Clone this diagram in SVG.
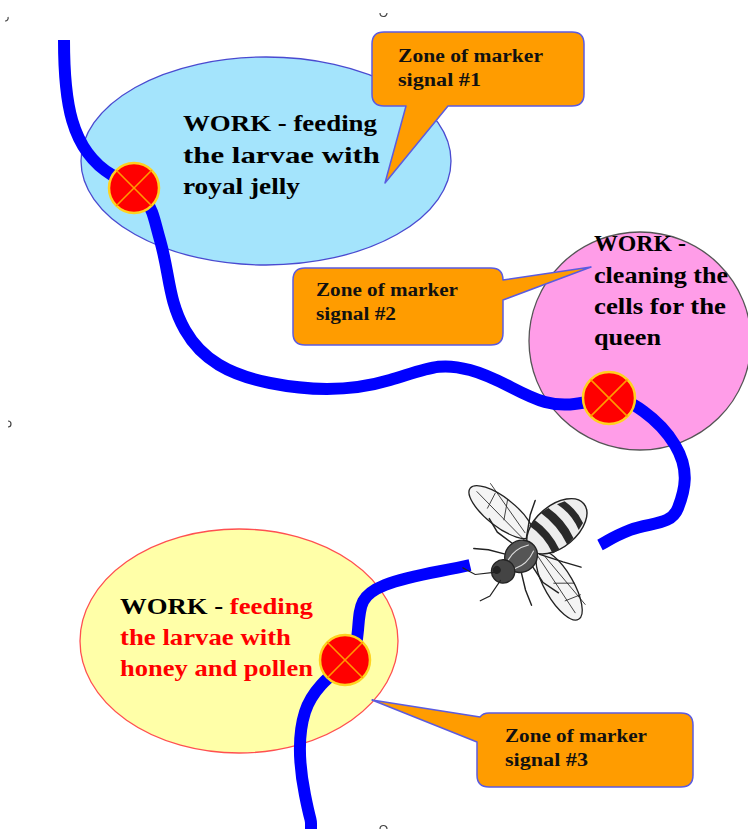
<svg xmlns="http://www.w3.org/2000/svg" width="748" height="829" viewBox="0 0 748 829">
  <style>
    .work { font-family: "Liberation Serif", "Times New Roman", serif; font-weight: bold; font-size: 23px; fill: #000; }
    .red { fill: #FF0000; }
    .zone { font-family: "Liberation Serif", "Times New Roman", serif; font-weight: bold; font-size: 18px; fill: #111; }
    .callout { fill: #FF9C00; stroke: #5B5BE0; stroke-width: 1.5; stroke-linejoin: round; }
    .marker circle { fill: #FF0000; stroke: #FFD21F; stroke-width: 2.5; }
    .marker line { stroke: #FF9A00; stroke-width: 1.6; }
    .route { fill: none; stroke: #0000FF; stroke-width: 12; stroke-linecap: butt; stroke-linejoin: round; }
    .tick { fill: none; stroke: #444; stroke-width: 1.2; }
  </style>

  <rect width="748" height="829" fill="#FFFFFF"/>

  <!-- page corner ticks -->
  <g id="ticks">
    <path class="tick" d="M8,17 a3,3 0 0 1 -3,4"/>
    <path class="tick" d="M380,13 a3.5,3.5 0 0 0 7,0"/>
    <path class="tick" d="M8,421 a3,3 0 0 1 0,6"/>
    <path class="tick" d="M380,829 a3.5,3.5 0 0 1 7,0"/>
  </g>

  <!-- work zones -->
  <g id="zone-royal-jelly">
    <ellipse cx="266" cy="161" rx="185" ry="104" fill="#A4E4FC" stroke="#4A4AD0" stroke-width="1.3"/>
  </g>
  <g id="zone-cleaning">
    <ellipse cx="640" cy="341" rx="111" ry="109" fill="#FF9DE8" stroke="#555" stroke-width="1.3"/>
  </g>
  <g id="zone-honey-pollen">
    <ellipse cx="239" cy="641" rx="159" ry="112" fill="#FFFFA8" stroke="#FF5050" stroke-width="1.3"/>
  </g>

  <!-- the bee's route -->
  <g id="connectors">
    <path class="route" d="M64,40 C64,100 70,150 112,175 S150,205 160,240 S168,300 185,330 S230,375 270,383 S350,392 390,380 S440,362 470,370 S520,395 545,402 S590,400 609,398 S660,420 675,445 S685,490 678,508 S650,522 630,530 S610,540 600,545"/>
    <path class="route" d="M470,565 C440,572 410,575 385,585 S360,605 358,630 S350,660 340,668 S312,690 305,712 S298,760 305,795 S311,815 311,829"/>
  </g>

  <!-- marker signals on the route -->
  <g id="marker-1" class="marker">
    <circle cx="134" cy="188" r="25"/>
    <line x1="116.3" y1="170.3" x2="151.7" y2="205.7"/>
    <line x1="151.7" y1="170.3" x2="116.3" y2="205.7"/>
  </g>
  <g id="marker-2" class="marker">
    <circle cx="609" cy="398" r="26"/>
    <line x1="590.6" y1="379.6" x2="627.4" y2="416.4"/>
    <line x1="627.4" y1="379.6" x2="590.6" y2="416.4"/>
  </g>
  <g id="marker-3" class="marker">
    <circle cx="345" cy="660" r="25"/>
    <line x1="327.3" y1="642.3" x2="362.7" y2="677.7"/>
    <line x1="362.7" y1="642.3" x2="327.3" y2="677.7"/>
  </g>

  <!-- bee -->
  <g id="bee" transform="translate(537,543) rotate(-40) scale(1.3)" stroke="#222" stroke-linecap="round">
    <!-- wings -->
    <ellipse cx="-6" cy="-36" rx="11" ry="30" fill="#F4F4F4" stroke-width="1" transform="rotate(-12,-6,-36)"/>
    <path d="M-6,-8 L-10,-60 M-2,-12 L2,-58 M-8,-30 L4,-40 M-12,-45 L0,-50" fill="none" stroke-width="0.6"/>
    <ellipse cx="-8" cy="36" rx="11" ry="30" fill="#F4F4F4" stroke-width="1" transform="rotate(10,-8,36)"/>
    <path d="M-6,8 L-12,60 M-2,12 L-2,60 M-10,32 L2,42 M-12,48 L0,52" fill="none" stroke-width="0.6"/>
    <!-- legs -->
    <path d="M-22,6 L-30,22 L-34,34 M-14,9 L-16,26 L-12,40 M-4,8 L6,24 L14,36 M-22,-6 L-32,-20 L-40,-28 M-14,-9 L-18,-26 L-16,-38 M-4,-8 L10,-20 L20,-26" fill="none" stroke-width="1.1"/>
    <!-- abdomen with bands -->
    <ellipse cx="20" cy="0" rx="27" ry="16" fill="#EDEDED" stroke-width="1.1"/>
    <path d="M4,-14 Q8,0 4,14 L10,15 Q14,0 10,-15 Z M17,-16 Q21,0 17,16 L24,15 Q28,0 24,-15 Z M31,-13 Q35,0 31,13 L37,11 Q40,0 37,-11 Z" fill="#2A2A2A" stroke="none"/>
    <!-- thorax and head -->
    <ellipse cx="-16" cy="0" rx="13" ry="12" fill="#555" stroke-width="1"/>
    <path d="M-26,-4 Q-16,-8 -6,-3 M-26,4 Q-16,8 -6,3" fill="none" stroke="#DDD" stroke-width="0.8"/>
    <circle cx="-34" cy="0" r="9" fill="#444" stroke-width="1"/>
    <circle cx="-37" cy="-4" r="3" fill="#222" stroke="none"/>
    <!-- antennae -->
    <path d="M-40,-4 L-52,-12 L-56,-22 M-40,4 L-54,8 L-62,6" fill="none" stroke-width="0.9"/>
  </g>

  <!-- callouts -->
  <g id="callout-1">
    <path class="callout" d="M384,32 H572 Q584,32 584,44 V94 Q584,106 572,106 H448 L385,183 L406,106 H384 Q372,106 372,94 V44 Q372,32 384,32 Z"/>
    <text class="zone" x="398" y="62" textLength="145" lengthAdjust="spacingAndGlyphs">Zone of marker</text>
    <text class="zone" x="398" y="86" textLength="83" lengthAdjust="spacingAndGlyphs">signal #1</text>
  </g>
  <g id="callout-2">
    <path class="callout" d="M305,268 H491 Q503,268 503,280 L591,267 L503,300 V333 Q503,345 491,345 H305 Q293,345 293,333 V280 Q293,268 305,268 Z"/>
    <text class="zone" x="316" y="296" textLength="142" lengthAdjust="spacingAndGlyphs">Zone of marker</text>
    <text class="zone" x="316" y="320" textLength="80" lengthAdjust="spacingAndGlyphs">signal #2</text>
  </g>
  <g id="callout-3">
    <path class="callout" d="M489,713 H681 Q693,713 693,725 V775 Q693,787 681,787 H489 Q477,787 477,775 V742 L372,700 L480,717 Q483,713 489,713 Z"/>
    <text class="zone" x="505" y="742" textLength="142" lengthAdjust="spacingAndGlyphs">Zone of marker</text>
    <text class="zone" x="505" y="766" textLength="83" lengthAdjust="spacingAndGlyphs">signal #3</text>
  </g>

  <!-- zone labels -->
  <g id="label-royal-jelly">
    <text class="work" x="183" y="131" textLength="194" lengthAdjust="spacingAndGlyphs">WORK - feeding</text>
    <text class="work" x="183" y="163" textLength="197" lengthAdjust="spacingAndGlyphs">the larvae with</text>
    <text class="work" x="183" y="194" textLength="117" lengthAdjust="spacingAndGlyphs">royal jelly</text>
  </g>
  <g id="label-cleaning">
    <text class="work" x="594" y="251" textLength="92" lengthAdjust="spacingAndGlyphs">WORK -</text>
    <text class="work" x="594" y="283" textLength="134" lengthAdjust="spacingAndGlyphs">cleaning the</text>
    <text class="work" x="594" y="314" textLength="132" lengthAdjust="spacingAndGlyphs">cells for the</text>
    <text class="work" x="594" y="345" textLength="67" lengthAdjust="spacingAndGlyphs">queen</text>
  </g>
  <g id="label-honey-pollen">
    <text class="work" x="120" y="614" textLength="193" lengthAdjust="spacingAndGlyphs">WORK - <tspan class="red">feeding</tspan></text>
    <text class="work red" x="120" y="645" textLength="171" lengthAdjust="spacingAndGlyphs">the larvae with</text>
    <text class="work red" x="120" y="676" textLength="193" lengthAdjust="spacingAndGlyphs">honey and pollen</text>
  </g>
</svg>
